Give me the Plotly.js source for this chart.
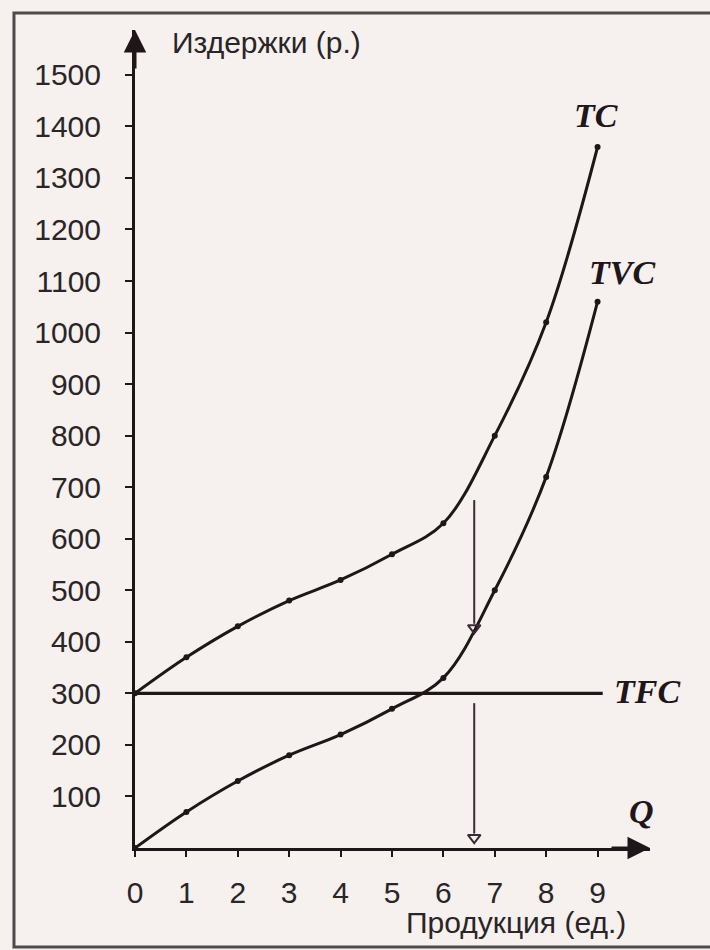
<!DOCTYPE html>
<html>
<head>
<meta charset="utf-8">
<script src="https://cdn.plot.ly/plotly-3.0.1.min.js"></script>
<style>
  html, body { margin: 0; padding: 0; background: #f6f0ef; }
  #chart { width: 710px; height: 950px; }
</style>
</head>
<body>
<div id="chart"></div>
<script>
// ---- data ----
const quantity = [0, 1, 2, 3, 4, 5, 6, 7, 8, 9];
const totalCost = [300, 370, 430, 480, 520, 570, 630, 800, 1020, 1360];      // TC
const variableCost = [0, 70, 130, 180, 220, 270, 330, 500, 720, 1060];       // TVC
const fixedQ = [0, 9.1];
const fixedCost = [300, 300];                                                 // TFC
const xTicks = [0, 1, 2, 3, 4, 5, 6, 7, 8, 9];
const yTicks = [100, 200, 300, 400, 500, 600, 700, 800, 900, 1000, 1100, 1200, 1300, 1400, 1500];
const arrowQ = 6.6;
const arrowUpper = [675, 427];   // from TC down to TVC
const arrowLower = [281, 20];    // from TFC down to Q axis

const ink = '#1e1619';
const arrowInk = '#3a2a35';
const textInk = '#2a2526';
const sans = 'Liberation Sans, Arial, sans-serif';
const serif = 'Liberation Serif, Times New Roman, serif';

const traces = [
  {
    x: quantity, y: totalCost, mode: 'lines+markers', type: 'scatter',
    line: {color: ink, width: 3, shape: 'spline', smoothing: 1},
    marker: {color: ink, size: 6}, hoverinfo: 'skip', cliponaxis: false
  },
  {
    x: quantity, y: variableCost, mode: 'lines+markers', type: 'scatter',
    line: {color: ink, width: 3, shape: 'spline', smoothing: 1},
    marker: {color: ink, size: 6}, hoverinfo: 'skip', cliponaxis: false
  },
  {
    x: fixedQ, y: fixedCost, mode: 'lines', type: 'scatter',
    line: {color: ink, width: 3.2}, hoverinfo: 'skip', cliponaxis: false
  },
  {
    x: [arrowQ, arrowQ], y: [arrowUpper[0], arrowUpper[1] + 8], mode: 'lines', type: 'scatter',
    line: {color: arrowInk, width: 2}, hoverinfo: 'skip'
  },
  {
    x: [arrowQ, arrowQ], y: [arrowLower[0], arrowLower[1] + 8], mode: 'lines', type: 'scatter',
    line: {color: arrowInk, width: 2}, hoverinfo: 'skip'
  },
  {
    x: [arrowQ, arrowQ], y: [arrowUpper[1], arrowLower[1]], mode: 'markers', type: 'scatter',
    marker: {symbol: 'triangle-down-open', size: 11, color: arrowInk, line: {width: 2, color: arrowInk}},
    hoverinfo: 'skip'
  }
];

const layout = {
  width: 710, height: 950,
  margin: {l: 135, r: 60, t: 30, b: 102},
  paper_bgcolor: '#f6f0ef',
  plot_bgcolor: 'rgba(0,0,0,0)',
  showlegend: false,
  xaxis: {
    range: [0, 10.02], showgrid: false, zeroline: false,
    showline: true, linecolor: ink, linewidth: 3,
    tickvals: xTicks, ticks: 'outside', ticklen: 6, tickwidth: 2, tickcolor: ink,
    ticklabelstandoff: 10,
    tickfont: {family: sans, size: 30, color: textInk}
  },
  yaxis: {
    range: [0, 1587], showgrid: false, zeroline: false,
    showline: true, linecolor: ink, linewidth: 3,
    tickvals: yTicks, ticks: 'outside', ticklen: 7, tickwidth: 2, tickcolor: ink,
    ticklabelstandoff: 18,
    tickfont: {family: sans, size: 30, color: textInk}
  },
  annotations: [
    // axis arrowheads
    {x: 10.02, y: 0, xref: 'x', yref: 'y', ax: -40, ay: 0, text: '', showarrow: true,
     arrowhead: 2, arrowsize: 1.5, arrowwidth: 3, arrowcolor: ink},
    {x: 0, y: 1587, xref: 'x', yref: 'y', ax: 0, ay: 40, text: '', showarrow: true,
     arrowhead: 2, arrowsize: 1.5, arrowwidth: 3, arrowcolor: ink},
    // axis titles
    {x: 0.68, y: 1562, xref: 'x', yref: 'y', xanchor: 'left', yanchor: 'middle', showarrow: false,
     text: 'Издержки (р.)', font: {family: sans, size: 30, color: textInk}},
    {x: 0.957, y: -0.0905, xref: 'paper', yref: 'paper', xanchor: 'right', yanchor: 'middle', showarrow: false,
     text: 'Продукция (ед.)', font: {family: sans, size: 30, color: textInk}},
    // curve labels
    {x: 8.97, y: 1422, xref: 'x', yref: 'y', showarrow: false, text: '<b><i>TC</i></b>',
     font: {family: serif, size: 34, color: ink}},
    {x: 9.47, y: 1116, xref: 'x', yref: 'y', showarrow: false, text: '<b><i>TVC</i></b>',
     font: {family: serif, size: 34, color: ink}},
    {x: 9.96, y: 303, xref: 'x', yref: 'y', showarrow: false, text: '<b><i>TFC</i></b>',
     font: {family: serif, size: 34, color: ink}},
    {x: 9.86, y: 70, xref: 'x', yref: 'y', showarrow: false, text: '<b><i>Q</i></b>',
     font: {family: serif, size: 34, color: ink}}
  ],
  shapes: [
    {type: 'rect', xref: 'paper', yref: 'paper', x0: -0.235, x1: 1.13, y0: -0.121, y1: 1.0208,
     line: {color: '#4d4a4b', width: 3}, fillcolor: 'rgba(0,0,0,0)', layer: 'below'}
  ]
};

Plotly.newPlot('chart', traces, layout, {staticPlot: true, displayModeBar: false});
</script>
</body>
</html>
